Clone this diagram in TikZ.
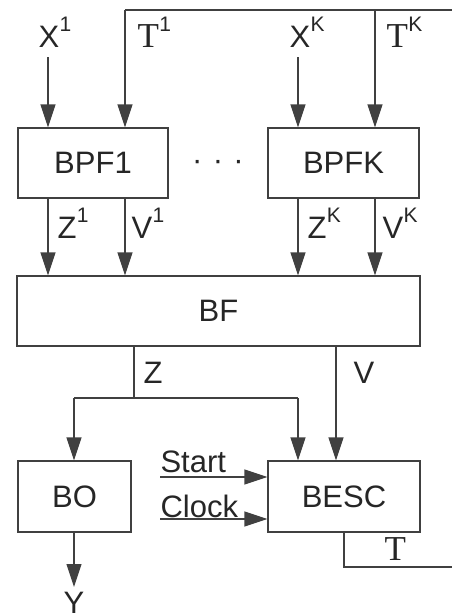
\documentclass[tikz,border=0pt]{standalone}
\usepackage{fontspec}
\setmainfont{Liberation Sans}
\newfontfamily\serifT{Liberation Serif}
\usetikzlibrary{arrows.meta}
% raised index after a signal name
\newcommand\idx[1]{\kern0.5pt\raisebox{16pt}{\fontsize{21}{21}\fontspec{Liberation Sans}#1}}
\begin{document}
\begin{tikzpicture}[x=1pt,y=-1pt,
  line width=1.1pt,
  every node/.style={text=black!85},
  blk/.style={draw=black!75,fill=white,minimum height=70pt,inner sep=0pt,
    font=\fontsize{31}{37}\selectfont},
  lbl/.style={inner sep=0pt,anchor=base west,font=\fontsize{31}{37}\selectfont},
  tlbl/.style={lbl,font=\fontsize{35}{40}\serifT},
  wire/.style={draw=black!75},
  arr/.style={wire,-{Triangle[length=23pt,width=15pt]}}]
\useasboundingbox (0,0) rectangle (452,613);

% blocks
\node[blk,minimum width=150pt] (bpf1) at (93,163) {BPF1};
\node[blk,minimum width=151pt] (bpfk) at (343.5,163) {BPFK};
\node[blk,minimum width=403pt] (bf) at (218.5,311) {BF};
\node[blk,minimum width=113pt,minimum height=71pt] (bo) at (74.5,496.5) {BO};
\node[blk,minimum width=152pt,minimum height=71pt] (besc) at (344,496.5) {BESC};

\node[inner sep=0pt,font=\fontsize{31}{37}\selectfont] (dots) at (218,165) {·\,\,·\,\,·};

% inputs of the filters
\coordinate (x1) at (48,57);
\coordinate (xk) at (298,57);
\coordinate (tc) at (125,10);
\coordinate (tend) at (452,10);
\coordinate (tk) at (375,10);
\draw[arr] (x1) -- (x1 |- bpf1.north);
\draw[arr] (xk) -- (xk |- bpfk.north);
\draw[wire] (tend) -- (tc);
\draw[arr] (tc) -- (tc |- bpf1.north);
\draw[arr] (tk) -- (tk |- bpfk.north);

\node[lbl] (lx1) at (38,47) {X\idx{1}};
\node[tlbl] (lt1) at (137,47) {T\idx{1}};
\node[lbl] (lxk) at (289,47) {X\idx{K}};
\node[tlbl] (ltk) at (386,47) {T\idx{K}};

% filter outputs into BF
\coordinate (z1) at (48,0);
\coordinate (v1) at (125,0);
\coordinate (zk) at (298,0);
\coordinate (vk) at (375,0);
\draw[arr] (bpf1.south -| z1) -- (bf.north -| z1);
\draw[arr] (bpf1.south -| v1) -- (bf.north -| v1);
\draw[arr] (bpfk.south -| zk) -- (bf.north -| zk);
\draw[arr] (bpfk.south -| vk) -- (bf.north -| vk);

\node[lbl] (lz1) at (57,238) {Z\idx{1}};
\node[lbl] (lv1) at (131,238) {V\idx{1}};
\node[lbl] (lzk) at (307,238) {Z\idx{K}};
\node[lbl] (lvk) at (382,238) {V\idx{K}};

% BF outputs
\coordinate (zs) at (134,0);
\coordinate (zbus) at (134,398);
\coordinate (zl) at (74,398);
\coordinate (zr) at (298,398);
\coordinate (vs) at (336,0);
\draw[wire] (bf.south -| zs) -- (zbus);
\draw[wire] (zl) -- (zr);
\draw[arr] (zl) -- (zl |- bo.north);
\draw[arr] (zr) -- (zr |- besc.north);
\draw[arr] (bf.south -| vs) -- (vs |- besc.north);

\node[lbl] (lz) at (143,383) {Z};
\node[lbl] (lv) at (353,383) {V};

% control inputs of BESC
\coordinate (st) at (160,477);
\coordinate (cl) at (160,519);
\draw[arr] (st) -- (st -| besc.west);
\draw[arr] (cl) -- (cl -| besc.west);
\node[lbl] (lst) at (160,472) {Start};
\node[lbl] (lcl) at (160,517) {Clock};

% output Y
\coordinate (yend) at (74,587);
\draw[arr] (bo.south -| yend) -- (yend);
\node[lbl,anchor=north] (ly) at (74,592) {Y};

% feedback T
\coordinate (tb) at (344,567);
\coordinate (tbr) at (452,567);
\draw[wire] (besc.south -| tb) -- (tb) -- (tbr);
\node[tlbl] (lt) at (384,560) {T};
\end{tikzpicture}
\end{document}
